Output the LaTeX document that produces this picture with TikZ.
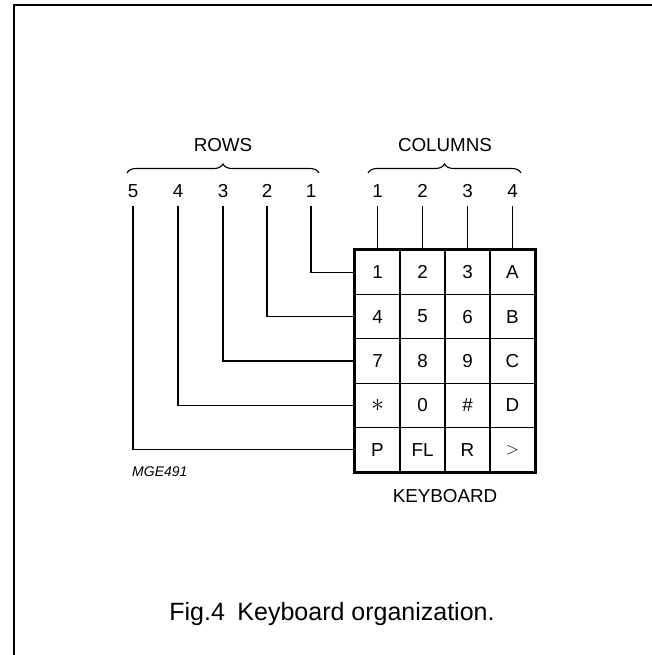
\documentclass[tikz,border=0pt]{standalone}
\usepackage{fontspec}
\setmainfont{Liberation Sans}
\usetikzlibrary{decorations.pathreplacing}
\begin{document}
\begin{tikzpicture}[x=1pt,y=-1pt,
  lbl/.style={font=\fontsize{18.8}{22}\selectfont,inner sep=0pt},
  key/.style={draw,line width=1.3pt,minimum width=45pt,minimum height=44.4pt,inner sep=0pt,font=\fontsize{18.8}{22}\selectfont},
  lead/.style={line width=1.3pt},
  brc/.style={decorate,decoration={brace,amplitude=9pt},line width=1.1pt},
  frame/.style={line width=2pt}]
\useasboundingbox (0,0) rectangle (652,655);
% page frame
\draw[frame] (13.5,655) -- (13.5,5.5) -- (652,5.5);
% keys
\foreach \r/\y in {1/272.2,2/316.6,3/361,4/405.4,5/449.8}{
  \foreach \c/\x in {1/377.5,2/422.5,3/467.5,4/512.5}{
    \node[key] (k\r\c) at (\x,\y) {};
  }
}
\node[lbl] at (k11) {1}; \node[lbl] at (k12) {2}; \node[lbl] at (k13) {3}; \node[lbl] at (k14) {A};
\node[lbl] at (k21) {4}; \node[lbl] at (k22) {5}; \node[lbl] at (k23) {6}; \node[lbl] at (k24) {B};
\node[lbl] at (k31) {7}; \node[lbl] at (k32) {8}; \node[lbl] at (k33) {9}; \node[lbl] at (k34) {C};
\node[lbl] at (k41) {\scalebox{1.5}{$\ast$}}; \node[lbl] at (k42) {0}; \node[lbl] at (k43) {\#}; \node[lbl] at (k44) {D};
\node[lbl] at (k51) {P}; \node[lbl] at (k52) {FL}; \node[lbl] at (k53) {R}; \node[lbl] at (k54) {$>$};
\draw[line width=3pt] (k11.north west) rectangle (k54.south east);
% row labels
\foreach \n/\x in {5/133,4/178,3/223,2/267,1/311}{
  \node[lbl,anchor=base] (r\n) at (\x,197) {\n};
}
% column labels
\foreach \n/\x in {1/377.5,2/422.5,3/467.5,4/512.5}{
  \node[lbl,anchor=base] (c\n) at (\x,197) {\n};
}
% row leads
\draw[lead] (r1.base) ++(0,9) |- (k11.west);
\draw[lead] (r2.base) ++(0,9) |- (k21.west);
\draw[lead] (r3.base) ++(0,9) |- (k31.west);
\draw[lead] (r4.base) ++(0,9) |- (k41.west);
\draw[lead] (r5.base) ++(0,9) |- (k51.west);
% column leads
\draw[lead] (c1.base) ++(0,9) -- (k11.north);
\draw[lead] (c2.base) ++(0,9) -- (k12.north);
\draw[lead] (c3.base) ++(0,9) -- (k13.north);
\draw[lead] (c4.base) ++(0,9) -- (k14.north);
% braces
\coordinate (rb1) at (127,173); \coordinate (rb2) at (319,173);
\coordinate (cb1) at (368,173); \coordinate (cb2) at (521,173);
\draw[brc] (rb1) -- (rb2);
\draw[brc] (cb1) -- (cb2);
\node[lbl] (rows) at (223,145) {ROWS};
\node[lbl] (cols) at (445,145) {COLUMNS};
% labels
\node[lbl,anchor=base] (kb) at (445,502) {KEYBOARD};
\node[inner sep=0pt,anchor=west,font=\fontsize{14}{16}\selectfont\itshape] (mge) at (132,472) {MGE491};
\node[inner sep=0pt,anchor=base,font=\fontsize{25}{30}\selectfont] (cap) at (332,620) {Fig.4\enspace Keyboard organization.};
\end{tikzpicture}
\end{document}
